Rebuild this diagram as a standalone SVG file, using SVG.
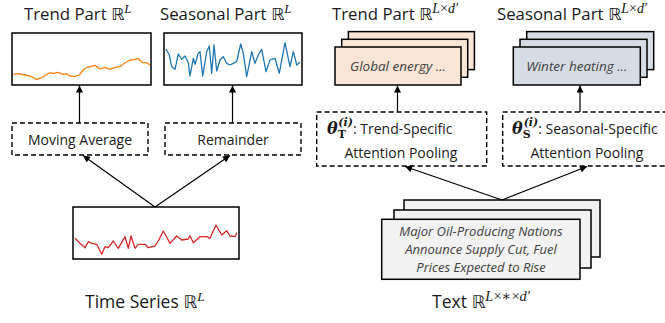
<svg xmlns="http://www.w3.org/2000/svg" width="665" height="323" viewBox="0 0 665 323">
  <style>
    .lbl { font-family: "Open Sans", "Liberation Sans", sans-serif; fill: #1a1a1a; }
    .title { font-size: 16.8px; }
    .cap { font-size: 17.5px; }
    .dbl { font-family: "DejaVu Sans", sans-serif; }
    .math { font-family: "Liberation Serif", "DejaVu Serif", serif; font-style: italic; }
    .up { font-family: "Liberation Serif", "DejaVu Serif", serif; font-style: normal; }
    .bm { font-family: "DejaVu Serif", serif; font-weight: bold; }
    .op { font-size: 14px; text-anchor: middle; }
    .it { font-family: "Open Sans", "Liberation Sans", sans-serif; font-style: italic; fill: #404040; text-anchor: middle; }
    .plot { fill: #ffffff; stroke: #000000; stroke-width: 1.5; }
    .dash { fill: none; stroke: #000000; stroke-width: 1.4; stroke-dasharray: 5 3; }
    .card { stroke: #000000; stroke-width: 1.5; }
    .warm { fill: #fbe5d6; }
    .cool { fill: #d6dce5; }
    .grey { fill: #f2f2f2; }
    .series { fill: none; stroke-width: 1.3; stroke-linejoin: round; }
    .edge { fill: none; stroke: #000000; stroke-width: 1.2; marker-end: url(#ah); }
  </style>
  <defs>
    <marker id="ah" viewBox="0 0 10 10" refX="10" refY="5" markerWidth="8" markerHeight="7" markerUnits="userSpaceOnUse" orient="auto">
      <path d="M0,0 L10,5 L0,10 z" fill="#000000"/>
    </marker>
  </defs>

  <!-- left side: decomposition of the time series -->
  <g id="trend-part">
    <text class="lbl title" x="24" y="20">Trend Part <tspan class="dbl">ℝ</tspan><tspan class="math" font-size="13" dy="-7">L</tspan></text>
    <rect class="plot" x="12" y="33" width="139" height="52"/>
    <polyline class="series" stroke="#ff7f0e" points="13.3,74.3 18.3,73.7 25,75 30,76 36.7,79.3 41.7,77.7 45,75.7 50,72.7 53.3,73.3 58.3,72.3 63.3,74.3 66.7,73.7 70,76 75,76.3 79.3,75 83.3,70 87.3,67.3 95,65.3 100,69 105,67.3 110,69.3 115,67.3 120,66.7 125,62.7 130,60 135,59.7 137.7,58.3 142.7,62.7 146.7,62.7 150,65"/>
  </g>

  <g id="seasonal-part">
    <text class="lbl title" x="160" y="20">Seasonal Part <tspan class="dbl">ℝ</tspan><tspan class="math" font-size="13" dy="-7">L</tspan></text>
    <rect class="plot" x="164" y="33" width="138" height="52"/>
    <polyline class="series" stroke="#1f77b4" points="166,49 169.3,55 171.7,66.7 175,69.3 178.3,54 181.7,59.3 185,56 188.3,62.7 190,76 193.3,58.3 195,64.3 198.3,53.3 200,51.7 202.7,76 206.7,51.7 209.3,46 211.7,73.3 214,45 216.7,71 220,60 223.3,56.7 226.7,63.3 230,65 233.3,63.3 236.7,61.7 240.7,44 243.3,53.3 246.7,76.7 251.7,51.7 255,63.3 258.3,55 261.7,49.3 266,71.7 270,60 275,58.3 279.3,73.3 285,42.7 290,66.7 293.3,51.7 296.7,65 300,62.3"/>
  </g>

  <g id="moving-average">
    <rect class="dash" x="12" y="123" width="136" height="32"/>
    <text class="lbl op" x="80" y="144.5">Moving Average</text>
  </g>

  <g id="remainder">
    <rect class="dash" x="165" y="123" width="136" height="32"/>
    <text class="lbl op" x="233" y="144.5">Remainder</text>
  </g>

  <g id="time-series">
    <rect class="plot" x="73" y="207" width="166" height="52"/>
    <polyline class="series" stroke="#d62728" points="75,238.3 80,243.3 85,247.7 88.3,241.7 91.7,243.3 96.7,244.3 101.7,254.3 105,246.7 108.3,247.7 113.3,241 118.3,248.3 125,236.7 128.3,248.3 131,236 135,248.3 138.3,244.3 145,244.3 148.3,247.7 155,246 158.3,241 163.3,231 170,243.3 176.7,236 181.7,240 188.3,239 190,235.7 193.3,242.7 200,236.7 206.7,236.7 210,238.3 216,225 221.7,235 226.7,230.7 230,236 235,236.7 236.7,232.7"/>
    <text class="lbl cap" x="85" y="308">Time Series <tspan class="dbl">ℝ</tspan><tspan class="math" font-size="13.5" dy="-7.5">L</tspan></text>
  </g>

  <!-- right side: attention pooling of the text -->
  <g id="trend-text">
    <text class="lbl title" x="332" y="20">Trend Part <tspan class="dbl">ℝ</tspan><tspan class="math" font-size="14" dy="-7">L<tspan class="up">×</tspan>d′</tspan></text>
    <rect class="card warm" x="348.4" y="31.6" width="126" height="38"/>
    <rect class="card warm" x="341.7" y="39.3" width="126" height="38"/>
    <rect class="card warm" x="335" y="47" width="126" height="38"/>
    <text class="it" x="398" y="71" font-size="13.5">Global energy ...</text>
  </g>

  <g id="seasonal-text">
    <text class="lbl title" x="497" y="20">Seasonal Part <tspan class="dbl">ℝ</tspan><tspan class="math" font-size="14" dy="-7">L<tspan class="up">×</tspan>d′</tspan></text>
    <rect class="card cool" x="526.7" y="31.6" width="127" height="38"/>
    <rect class="card cool" x="520" y="39.3" width="127" height="38"/>
    <rect class="card cool" x="513.3" y="47" width="127" height="38"/>
    <text class="it" x="576.8" y="71" font-size="13.5">Winter heating ...</text>
  </g>

  <g id="trend-pooling">
    <rect class="dash" x="316.7" y="112" width="170" height="54"/>
    <text class="lbl" font-size="14" x="327" y="134"><tspan class="bm" font-style="italic" font-size="16">θ</tspan><tspan class="bm" font-size="11" dy="4">T</tspan><tspan class="bm" font-style="italic" font-size="11" dx="-7.5" dy="-12">(i)</tspan><tspan dy="8">: Trend-Specific</tspan></text>
    <text class="lbl op" x="401" y="158">Attention Pooling</text>
  </g>

  <g id="seasonal-pooling">
    <rect class="dash" x="502.7" y="112" width="170" height="54"/>
    <text class="lbl" font-size="14" x="512" y="134"><tspan class="bm" font-style="italic" font-size="16">θ</tspan><tspan class="bm" font-size="11" dy="4">S</tspan><tspan class="bm" font-style="italic" font-size="11" dx="-7" dy="-12">(i)</tspan><tspan dy="8">: Seasonal-Specific</tspan></text>
    <text class="lbl op" x="587" y="158">Attention Pooling</text>
  </g>

  <g id="text-input">
    <rect class="card grey" x="404" y="200" width="196" height="57"/>
    <rect class="card grey" x="394" y="210" width="197" height="58"/>
    <rect class="card grey" x="381.7" y="219.3" width="198.3" height="60"/>
    <text class="it" x="481" y="236" font-size="13">Major Oil-Producing Nations</text>
    <text class="it" x="481" y="254" font-size="13">Announce Supply Cut, Fuel</text>
    <text class="it" x="481" y="272" font-size="13">Prices Expected to Rise</text>
    <text class="lbl cap" x="432" y="308">Text <tspan class="dbl">ℝ</tspan><tspan class="math" font-size="14.5" dy="-7.5">L<tspan class="up">×∗×</tspan>d′</tspan></text>
  </g>

  <g id="connectors">
    <line class="edge" x1="79.5" y1="123" x2="79.5" y2="85.5"/>
    <line class="edge" x1="232.5" y1="123" x2="232.5" y2="85.5"/>
    <line class="edge" x1="155" y1="207" x2="83" y2="155.5"/>
    <line class="edge" x1="155" y1="207" x2="230" y2="155.5"/>
    <line class="edge" x1="397.5" y1="112" x2="397.5" y2="85.5"/>
    <line class="edge" x1="580" y1="112" x2="580" y2="85.5"/>
    <line class="edge" x1="502" y1="200" x2="405" y2="166.5"/>
    <line class="edge" x1="502" y1="200" x2="587" y2="166.5"/>
  </g>
</svg>
